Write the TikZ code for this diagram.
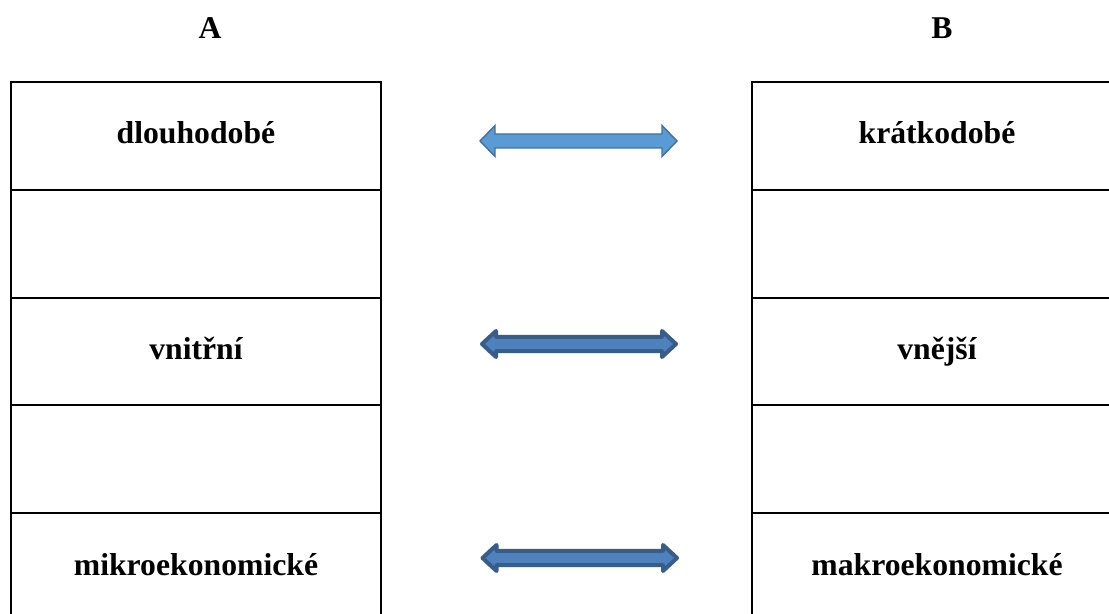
\documentclass[tikz,border=0pt]{standalone}
\usepackage{fontspec}
\setmainfont{Liberation Serif}
\usetikzlibrary{calc}
\definecolor{lightfill}{HTML}{5B9BD5}
\definecolor{lightline}{HTML}{41719C}
\definecolor{darkfill}{HTML}{4F81BD}
\definecolor{darkline}{HTML}{385D8A}
\tikzset{
  cell/.style={draw=black, line width=1pt, minimum width=185pt, minimum height=53.9pt,
    inner sep=0pt, font=\fontsize{15.85pt}{19pt}\selectfont\bfseries, text height=8pt, text depth=0pt, anchor=center},
  head/.style={font=\fontsize{15.85pt}{19pt}\selectfont\bfseries},
  lightarrow/.style={fill=lightfill, draw=lightline, line width=0.7pt, line join=miter},
  darkarrow/.style={fill=darkfill, draw=darkline, line width=2pt, line join=round}
}
% #1 style, #2 left tip, #3 right tip, #4 head length, #5 half head, #6 half shaft
\newcommand{\dblarr}[6]{%
  \draw[#1] (#2) -- ($(#2)+(#4,-#5)$) -- ($(#2)+(#4,-#6)$) -- ($(#3)+(-#4,-#6)$)
    -- ($(#3)+(-#4,-#5)$) -- (#3) -- ($(#3)+(-#4,#5)$) -- ($(#3)+(-#4,#6)$)
    -- ($(#2)+(#4,#6)$) -- ($(#2)+(#4,#5)$) -- cycle;}
\begin{document}
\begin{tikzpicture}[x=1pt,y=-1pt]
\useasboundingbox[fill=white] (0,0) rectangle (554.5,307);
\node[head] (hA) at (105,14) {A};
\node[head] (hB) at (471,14) {B};
% left column
\node[cell] (l1) at (98,67.95) {dlouhodobé};
\node[cell] (l2) at (98,121.85) {};
\node[cell] (l3) at (98,175.75) {vnitřní};
\node[cell] (l4) at (98,229.65) {};
\node[cell] (l5) at (98,283.55) {mikroekonomické};
% right column
\node[cell] (r1) at (468.5,67.95) {krátkodobé};
\node[cell] (r2) at (468.5,121.85) {};
\node[cell] (r3) at (468.5,175.75) {vnější};
\node[cell] (r4) at (468.5,229.65) {};
\node[cell] (r5) at (468.5,283.55) {makroekonomické};
% arrows
\coordinate (a1l) at (240,70.5);
\coordinate (a1r) at (338.5,70.5);
\coordinate (a2l) at (241,172);
\coordinate (a2r) at (338,172);
\coordinate (a3l) at (241.25,279);
\coordinate (a3r) at (338.5,279);
\dblarr{lightarrow}{a1l}{a1r}{7.5}{7.75}{3.5}
\dblarr{darkarrow}{a2l}{a2r}{7}{6.5}{3.6}
\dblarr{darkarrow}{a3l}{a3r}{7}{6.5}{3.6}
\end{tikzpicture}
\end{document}
